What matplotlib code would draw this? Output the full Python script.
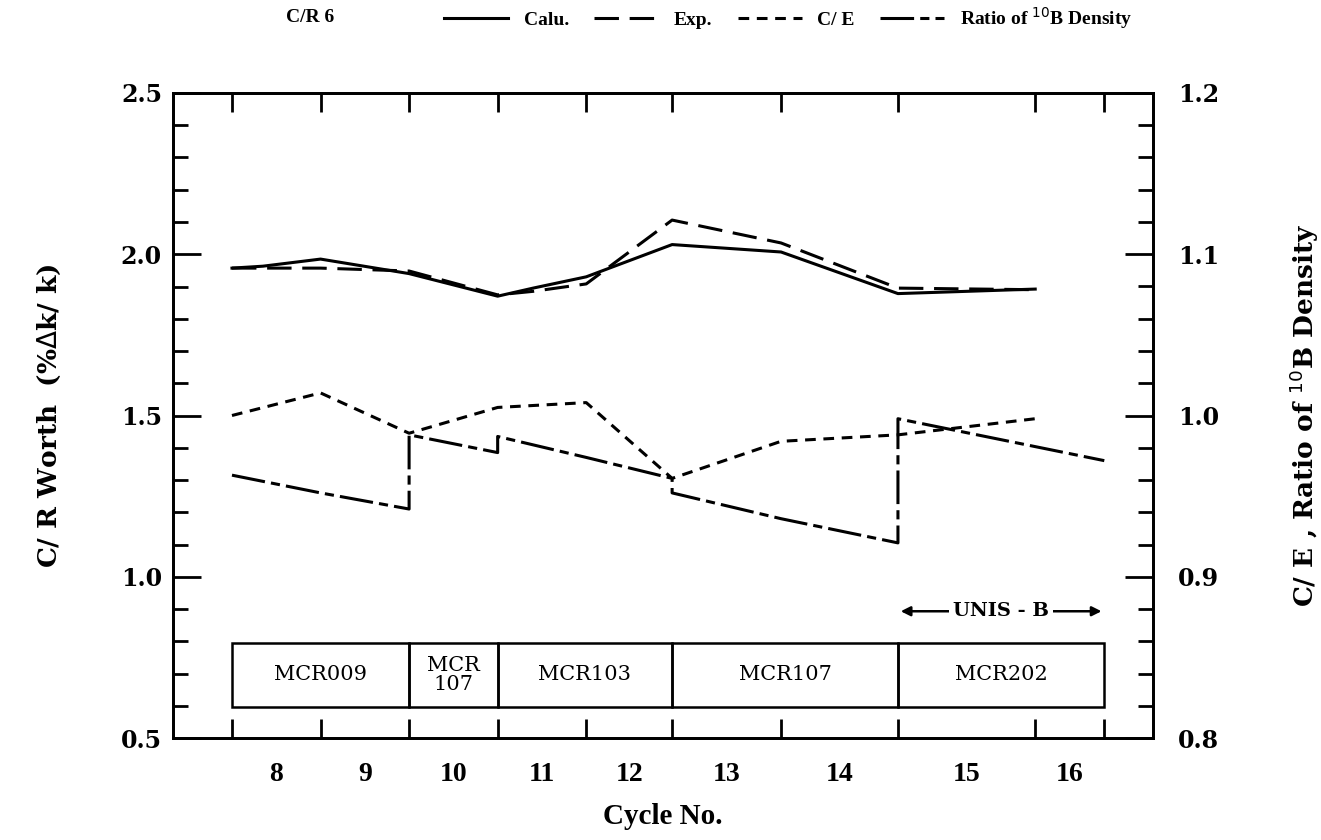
import matplotlib
matplotlib.use('Agg')
from matplotlib import pyplot as plt
from matplotlib.patches import Rectangle
from matplotlib.ticker import MultipleLocator, FixedLocator

plt.rcParams['font.family'] = ['DejaVu Serif', 'Liberation Serif']

# cycle boundaries (relative burnup position) and cycle numbers
bounds = [0, 1.0, 2.0, 3.0, 4.0, 4.97, 6.2, 7.52, 9.07, 9.85]
cycles = [8, 9, 10, 11, 12, 13, 14, 15, 16]

# C/R worth (%dk/k), left axis
calu_x = [0, 0.35, 1.0, 2.0, 3.0, 3.4, 4.0, 4.97, 6.2, 7.52, 9.07]
calu_y = [1.957, 1.963, 1.985, 1.94, 1.87, 1.895, 1.93, 2.03, 2.007, 1.878, 1.892]
exp_x = [0, 1.0, 2.0, 3.0, 3.4, 4.0, 4.97, 6.2, 7.52, 9.07]
exp_y = [1.957, 1.957, 1.948, 1.874, 1.885, 1.908, 2.106, 2.035, 1.895, 1.89]

# C/E and ratio of 10B density, right axis
ce_x = [0, 1.0, 2.0, 3.0, 4.0, 4.97, 6.2, 7.52, 9.07]
ce_y = [1.0, 1.014, 0.989, 1.005, 1.008, 0.961, 0.984, 0.988, 0.998]
ratio_x = [0, 1.0, 2.0, 2.0, 3.0, 3.0, 4.0, 4.97, 4.97, 6.2, 7.52, 7.52, 9.85]
ratio_y = [0.963, 0.952, 0.942, 0.988, 0.977, 0.987, 0.974, 0.961, 0.952, 0.936, 0.921, 0.998, 0.972]

# core loading boxes
box_edges = [0, 2.0, 3.0, 4.97, 7.52, 9.85]
box_names = ['MCR009', 'MCR\n107', 'MCR103', 'MCR107', 'MCR202']

fig = plt.figure(figsize=(13.21, 8.4), dpi=100)
ax = fig.add_axes([173/1321, 1-738/840, 980/1321, 645/840])
ax2 = ax.twinx()

lw = 2.2
l1, = ax.plot(calu_x, calu_y, c='black', lw=lw, label='Calu.')
l2, = ax.plot(exp_x, exp_y, c='black', lw=lw, dashes=(8, 3.5), label='Exp.')
l3, = ax2.plot(ce_x, ce_y, c='black', lw=lw, dashes=(3.5, 2.5), label='C/ E')
l4, = ax2.plot(ratio_x, ratio_y, c='black', lw=lw, dashes=(11, 2, 3, 2),
               label='Ratio of $^{10}$B Density')

ax.set_xlim(-0.666, 10.4)
ax.set_ylim(0.5, 2.5)
ax2.set_ylim(0.8, 1.2)

# loading boxes along the bottom
ybot, ytop = 0.596, 0.795
for i in range(len(box_names)):
    ax.add_patch(Rectangle((box_edges[i], ybot), box_edges[i+1]-box_edges[i], ytop-ybot,
                           fill=False, ec='black', lw=1.8))
    ax.text((box_edges[i]+box_edges[i+1])/2, (ybot+ytop)/2, box_names[i],
            ha='center', va='center', fontsize=15, linespacing=1.0)

# UNIS-B arrow
ax.annotate('', xy=(box_edges[4], 0.893), xytext=(box_edges[5], 0.893),
            arrowprops=dict(arrowstyle='<|-|>', color='black', lw=1.8, mutation_scale=14))
ax.text((box_edges[4]+box_edges[5])/2, 0.893, 'UNIS - B', ha='center', va='center',
        fontsize=14, fontweight='bold', bbox=dict(fc='white', ec='none', pad=3))

# ticks
ax.xaxis.set_major_locator(FixedLocator([(bounds[i]+bounds[i+1])/2 for i in range(len(cycles))]))
ax.set_xticklabels([str(c) for c in cycles])
ax.xaxis.set_minor_locator(FixedLocator(bounds))
ax.tick_params(axis='x', which='major', length=0, pad=17, labelsize=17)
ax.tick_params(axis='x', which='minor', direction='in', length=14, width=2, top=True, bottom=True)
for t in ax.get_xticklabels():
    t.set_fontfamily(['Liberation Serif', 'DejaVu Serif'])
    t.set_fontweight('bold')
    t.set_fontsize(20)

ax.yaxis.set_major_locator(MultipleLocator(0.5))
ax.yaxis.set_minor_locator(MultipleLocator(0.1))
ax.set_yticklabels(['%.1f' % v for v in ax.get_yticks()])
ax.tick_params(axis='y', which='major', direction='in', length=20, width=2, pad=8, labelsize=17)
ax.tick_params(axis='y', which='minor', direction='in', length=11, width=2)
ax2.yaxis.set_major_locator(MultipleLocator(0.1))
ax2.yaxis.set_minor_locator(MultipleLocator(0.02))
ax2.tick_params(axis='y', which='major', direction='in', length=20, width=2, pad=18, labelsize=17)
ax2.tick_params(axis='y', which='minor', direction='in', length=11, width=2)
for t in ax.get_yticklabels() + ax2.get_yticklabels():
    t.set_fontweight('bold')

for s in ax.spines.values():
    s.set_linewidth(2)
for s in ax2.spines.values():
    s.set_linewidth(2)

ax.set_xlabel('Cycle No.', fontsize=21, fontweight='bold', family=['Liberation Serif', 'DejaVu Serif'])
ax.xaxis.set_label_coords(0.5, -0.1)
ax.set_ylabel('C/ R Worth  (%$\\Delta$k/ k)', fontsize=19, fontweight='bold')
ax.yaxis.set_label_coords(-0.112, 0.5)
ax2.set_ylabel('C/ E , Ratio of $^{10}$B Density', fontsize=19, fontweight='bold')
ax2.yaxis.set_label_coords(1.137, 0.5)

# legend row at the top
fig.text(286/1321, 1-18/840, 'C/R 6', ha='left', va='center', fontsize=14,
         family=['Liberation Serif', 'DejaVu Serif'], fontweight='bold')
fig.legend(handles=[l1, l2, l3, l4], loc='center', bbox_to_anchor=(788/1321, 1-18/840),
           ncol=4, frameon=False, handlelength=3.3, handletextpad=0.8, columnspacing=1.3,
           prop={'family': ['Liberation Serif', 'DejaVu Serif'], 'size': 14, 'weight': 'bold'})

plt.savefig('out.png', dpi=100)
